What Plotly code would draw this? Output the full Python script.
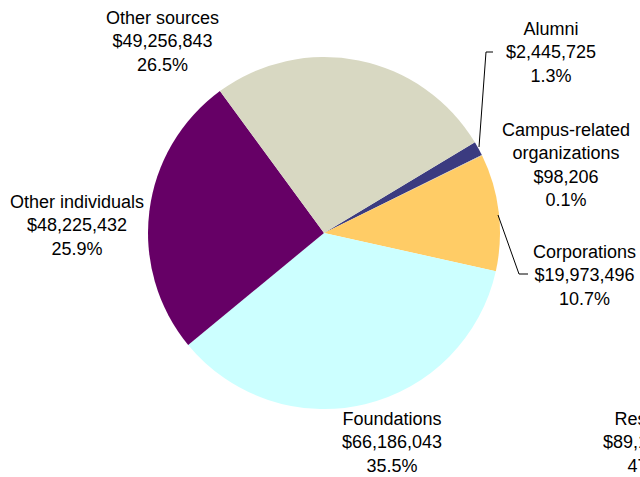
import plotly.graph_objects as go

# gift sources, clockwise from the alumni slice
sources = ["Alumni", "Campus-related<br>organizations", "Corporations",
           "Foundations", "Other individuals", "Other sources"]
amounts = [2445725, 98206, 19973496, 66186043, 48225432, 49256843]
colors = ["#3B3B80", "#B0B0B0", "#FFCC66", "#CCFFFF", "#660066", "#D8D8C2"]

# label centres in pixels (x, y) for each source
label_xy = [(551, 52), (566, 165), (584, 275), (392, 442), (77, 225), (162, 41)]

# partly visible label from the neighbouring chart
other_label = "Research"
other_amount = 89150000
other_share = 47.9

W, H = 640, 477
total = sum(amounts)

fig = go.Figure()
fig.add_trace(go.Pie(
    labels=sources,
    values=amounts,
    marker=dict(colors=colors, line=dict(width=0)),
    sort=False,
    direction="clockwise",
    rotation=59,
    textinfo="none",
    hoverinfo="label+value+percent",
    domain=dict(x=[148 / W, 500 / W], y=[(H - 409) / H, (H - 57) / H]),
    showlegend=False,
))

font = dict(family="Liberation Sans, Arial, sans-serif", size=18, color="black")

for name, amt, (px_, py_) in zip(sources, amounts, label_xy):
    txt = f"{name}<br>${amt:,}<br>{amt / total * 100:.1f}%"
    fig.add_annotation(x=px_ / W, y=1 - py_ / H, xref="paper", yref="paper",
                       text=txt, showarrow=False, font=font,
                       xanchor="center", yanchor="middle", align="center")

# this one runs off the right edge, as in the original
fig.add_annotation(x=653 / W, y=1 - 442 / H, xref="paper", yref="paper",
                   text=f"{other_label}<br>${other_amount:,}<br>{other_share:.1f}%",
                   showarrow=False, font=font, xanchor="center", yanchor="middle",
                   align="center")

# leader lines for alumni and corporations
fig.add_shape(type="path", xref="paper", yref="paper",
              path=f"M {479 / W} {1 - 147 / H} L {486 / W} {1 - 52 / H} L {493 / W} {1 - 52 / H}",
              line=dict(color="black", width=1))
fig.add_shape(type="path", xref="paper", yref="paper",
              path=f"M {498 / W} {1 - 215 / H} L {519 / W} {1 - 274 / H} L {528 / W} {1 - 274 / H}",
              line=dict(color="black", width=1))

fig.update_layout(
    width=W, height=H,
    margin=dict(l=0, r=0, t=0, b=0),
    paper_bgcolor="white",
    plot_bgcolor="white",
)

# drop the default page margin so the figure sits at the window's corner
fig.write_html("out.html", config={"displayModeBar": False},
               post_script="document.body.style.margin='0';")
